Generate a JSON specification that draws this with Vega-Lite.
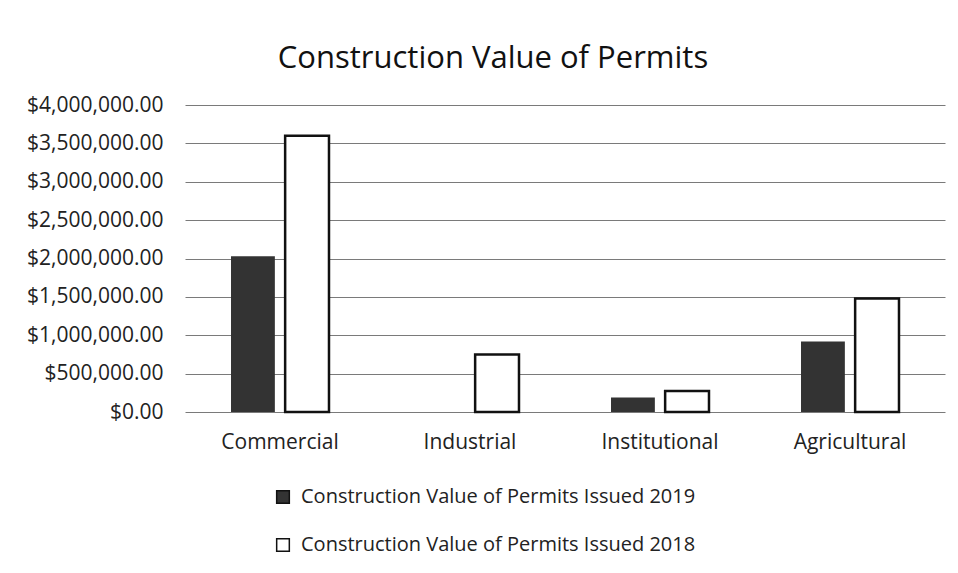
{
  "$schema": "https://vega.github.io/schema/vega-lite/v6.json",
  "width": 760,
  "height": 307,
  "autosize": "none",
  "padding": {"left": 185, "top": 105, "right": 13, "bottom": 161},
  "background": "white",
  "title": {
    "text": "Construction Value of Permits",
    "font": "Open Sans",
    "fontSize": 31,
    "fontWeight": "normal",
    "color": "#111",
    "anchor": "middle",
    "dx": -72,
    "offset": 19
  },
  "data": {
    "values": [
      {"category": "Commercial", "series": "Construction Value of Permits Issued 2019", "value": 2030000},
      {"category": "Commercial", "series": "Construction Value of Permits Issued 2018", "value": 3600000},
      {"category": "Industrial", "series": "Construction Value of Permits Issued 2019", "value": 0},
      {"category": "Industrial", "series": "Construction Value of Permits Issued 2018", "value": 750000},
      {"category": "Institutional", "series": "Construction Value of Permits Issued 2019", "value": 190000},
      {"category": "Institutional", "series": "Construction Value of Permits Issued 2018", "value": 275000},
      {"category": "Agricultural", "series": "Construction Value of Permits Issued 2019", "value": 920000},
      {"category": "Agricultural", "series": "Construction Value of Permits Issued 2018", "value": 1480000}
    ]
  },
  "mark": {"type": "bar", "strokeWidth": 2.5},
  "encoding": {
    "x": {
      "field": "category",
      "type": "nominal",
      "sort": ["Commercial", "Industrial", "Institutional", "Agricultural"],
      "scale": {"paddingInner": 0, "paddingOuter": 0},
      "axis": {
        "title": null,
        "labelAngle": 0,
        "labelFont": "Open Sans",
        "labelFontSize": 21,
        "labelColor": "#222",
        "labelPadding": 19,
        "domain": false,
        "ticks": false
      }
    },
    "xOffset": {
      "field": "series",
      "type": "nominal",
      "sort": ["Construction Value of Permits Issued 2019", "Construction Value of Permits Issued 2018"],
      "scale": {"paddingInner": 0.19, "paddingOuter": 0.85}
    },
    "y": {
      "field": "value",
      "type": "quantitative",
      "scale": {"domain": [0, 4000000]},
      "axis": {
        "title": null,
        "values": [0, 500000, 1000000, 1500000, 2000000, 2500000, 3000000, 3500000, 4000000],
        "format": "$,.2f",
        "labelFont": "Open Sans",
        "labelFontSize": 21,
        "labelColor": "#222",
        "labelPadding": 22,
        "labelLimit": 0,
        "domain": false,
        "ticks": false,
        "grid": true,
        "gridColor": "#7a7a7a",
        "gridWidth": 1
      }
    },
    "fill": {
      "field": "series",
      "type": "nominal",
      "sort": ["Construction Value of Permits Issued 2019", "Construction Value of Permits Issued 2018"],
      "scale": {"range": ["#333333", "#ffffff"]},
      "legend": {
        "title": null,
        "orient": "none",
        "legendX": 88,
        "legendY": 382,
        "direction": "vertical",
        "symbolType": "square",
        "symbolSize": 160,
        "symbolStrokeColor": "#111",
        "symbolStrokeWidth": 1.5,
        "labelFont": "Open Sans",
        "labelFontSize": 20,
        "labelColor": "#222",
        "labelLimit": 0,
        "rowPadding": 28,
        "labelOffset": 8
      }
    },
    "stroke": {
      "field": "series",
      "type": "nominal",
      "sort": ["Construction Value of Permits Issued 2019", "Construction Value of Permits Issued 2018"],
      "scale": {"range": ["rgba(0,0,0,0)", "#111111"]},
      "legend": null
    }
  },
  "config": {
    "view": {"stroke": null}
  }
}
